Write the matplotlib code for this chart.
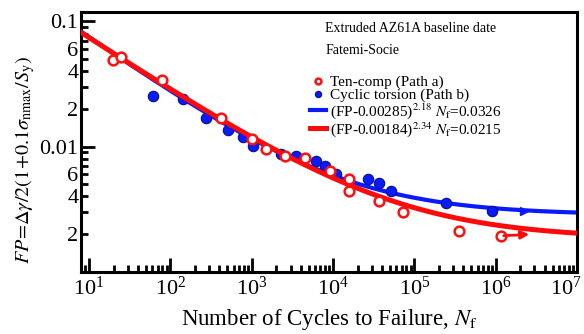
import numpy as np
import matplotlib
matplotlib.use('Agg')
import matplotlib.pyplot as plt
import matplotlib.transforms as mtransforms
from matplotlib.ticker import FixedLocator, FixedFormatter, LogFormatterMathtext

plt.rcParams['font.family'] = ['Liberation Serif', 'DejaVu Serif']
plt.rcParams['mathtext.fontset'] = 'stix'

# Ten-comp (Path a), open red circles
nf_a = [19.7, 24.7, 78.7, 425, 1020, 1514, 2540, 4470, 9060, 15850, 15850,
        37200, 71900, 356000, 1.16e6]
fp_a = [0.0496, 0.0523, 0.0338, 0.0170, 0.01144, 0.00952, 0.00842, 0.00807,
        0.00640, 0.0055, 0.00443, 0.00369, 0.00299, 0.00213, 0.00194]

# Cyclic torsion (Path b), filled blue circles
nf_b = [60.3, 143.6, 273, 512, 782, 1037, 2310, 3530, 6220, 7870, 10960,
        26700, 37200, 51800, 245000, 912000]
fp_b = [0.0256, 0.0241, 0.0170, 0.01355, 0.0120, 0.0101, 0.0087, 0.00842,
        0.00768, 0.00702, 0.00603, 0.00550, 0.00516, 0.00443, 0.00358, 0.00307]

# fit constants, from the legend: (FP - c)^b * Nf = a
fit_b = (0.00285, 2.18, 0.0326)
fit_a = (0.00184, 2.34, 0.0215)

# run-outs
runout_b = (2.24e6, 0.00307)
runout_a = (1.16e6, 0.00194, 2.8e6, 0.00200)

xmajor = [1e1, 1e2, 1e3, 1e4, 1e5, 1e6, 1e7]

fig = plt.figure(figsize=(5.84, 3.34), dpi=100)
ax = fig.add_axes([0.139, 0.186, 0.849, 0.778])

N = np.logspace(np.log10(8), 7, 300)
for (c, b, a), col, lw, lab in [(fit_b, '#0a1aff', 3.0, r'(FP-0.00285)$^{2.18}$ $N_{\rm f}$=0.0326'),
                                (fit_a, '#ff0a0a', 3.6, r'(FP-0.00184)$^{2.34}$ $N_{\rm f}$=0.0215')]:
    fp = c + (a / N) ** (1.0 / b)
    ax.plot(N, fp, '-', color=col, lw=lw, label=lab, zorder=3 if col == '#ff0a0a' else 2)

ax.plot(nf_b, fp_b, 'o', ms=7.5, mfc='#0a1aff', mec='#00108a', mew=0.8,
        ls='none', label='Cyclic torsion (Path b)', zorder=2.5)
ax.plot(nf_a, fp_a, 'o', ms=7, mfc='white', mec='#ff1010', mew=1.8,
        ls='none', label='Ten-comp (Path a)', zorder=4)

ax.plot([runout_b[0]], [runout_b[1]], '>', ms=6, color='#0a1aff', zorder=3)
ax.annotate('', xy=(runout_a[2], runout_a[3]), xytext=(runout_a[0], runout_a[1]),
            arrowprops=dict(arrowstyle='-|>', color='#ff0a0a', lw=2, mutation_scale=12),
            zorder=5)

ax.set_xscale('log')
ax.set_yscale('log')
ax.set_xlim(8, 1e7)
ax.set_ylim(0.001, 0.119)

ax.xaxis.set_major_locator(FixedLocator(xmajor))
ax.xaxis.set_major_formatter(LogFormatterMathtext())
xmin_t = [m * 10.0 ** e for e in range(0, 7) for m in range(2, 10)]
ax.xaxis.set_minor_locator(FixedLocator(xmin_t))

ax.yaxis.set_major_locator(FixedLocator([0.01, 0.1]))
ax.yaxis.set_major_formatter(FixedFormatter(['0.01', '0.1']))
ymin = [m * 10.0 ** e for e in (-3, -2) for m in range(2, 10)]
ylab = []
for v in ymin:
    m = int(round(v / 10 ** np.floor(np.log10(v) + 1e-9)))
    ylab.append(str(m) if m in (2, 4, 6) else '')
ax.yaxis.set_minor_locator(FixedLocator(ymin))
ax.yaxis.set_minor_formatter(FixedFormatter(ylab))

ax.tick_params(which='both', direction='in', width=2, labelsize=16, colors='black')
ax.tick_params(which='major', length=10)
ax.tick_params(which='minor', length=5)
ax.tick_params(axis='y', which='both', pad=2)
for s in ax.spines.values():
    s.set_linewidth(2.2)

ax.set_xlabel(r'Number of Cycles to Failure, $N_{\rm f}$', fontsize=16.5, labelpad=5)
ax.set_ylabel(r'$FP\!=\!\Delta\gamma/2(1\!+\!0.1\sigma_{\rm nmax}/S_{\rm y})$', fontsize=14.5)
ax.yaxis.set_label_coords(-0.09, 0.43)

# pull the 10^7 label back inside the figure, as in the reference
fig.canvas.draw()
last = ax.xaxis.get_major_ticks()[-1].label1
last.set_transform(last.get_transform() + mtransforms.ScaledTranslation(-11 / 100, 0, fig.dpi_scale_trans))

ax.text(0.492, 0.925, 'Extruded AZ61A baseline date', transform=ax.transAxes, fontsize=10)
ax.text(0.492, 0.84, 'Fatemi-Socie', transform=ax.transAxes, fontsize=10)

h, l = ax.get_legend_handles_labels()
order = [3, 2, 0, 1]
leg = ax.legend([h[i] for i in order], [l[i] for i in order], loc='upper left',
                bbox_to_anchor=(0.45, 0.78), frameon=False, fontsize=11,
                handlelength=1.0, handletextpad=0.3, labelspacing=-0.06,
                markerscale=0.6, borderaxespad=0)

fig.savefig('out.png', dpi=100)
